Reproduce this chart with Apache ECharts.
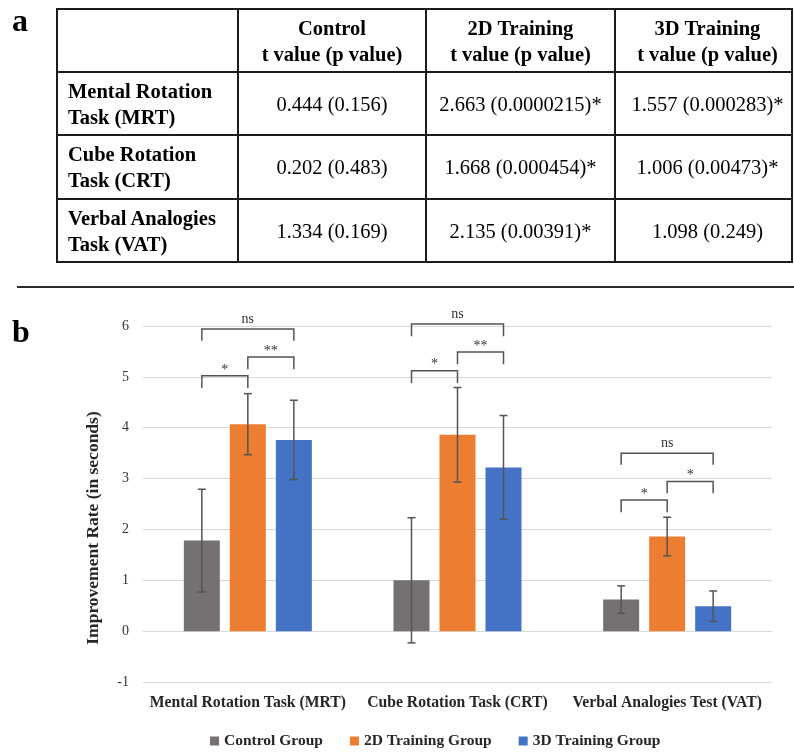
<!DOCTYPE html>
<html>
<head>
<meta charset="utf-8">
<script src="https://cdn.jsdelivr.net/npm/echarts@6/dist/echarts.min.js"></script>
<style>
html,body{margin:0;padding:0;background:#fff;}
#wrap{position:relative;width:794px;height:752px;overflow:hidden;font-family:"Liberation Serif","Times New Roman",serif;background:#fff;}
#chart{position:absolute;left:0;top:0;width:794px;height:752px;}
.panel{position:absolute;font-weight:bold;font-size:32px;line-height:32px;color:#000;}
#tbl{position:absolute;left:56px;top:8px;width:735px;border-collapse:collapse;table-layout:fixed;font-size:20.5px;line-height:26px;color:#000;}
#tbl td,#tbl th{border:2px solid #1c1c1c;padding:0;text-align:center;vertical-align:middle;font-weight:normal;}
#tbl th{font-weight:bold;}
#tbl td.rl{text-align:left;padding-left:10px;font-weight:bold;}
#tbl .last{padding-left:8px;}
#sep{position:absolute;left:17px;top:286px;width:777px;height:2px;background:#2a2a2a;}
</style>
</head>
<body>
<div id="wrap">
  <div id="chart"></div>
  <div class="panel" style="left:12px;top:4px;">a</div>
  <div class="panel" style="left:12px;top:315px;">b</div>
  <table id="tbl"></table>
  <div id="sep"></div>
</div>
<script>
// ---------- Panel a: table data ----------
const tableColHeaders = [['Control', 't value (p value)'], ['2D Training', 't value (p value)'], ['3D Training', 't value (p value)']];
const tableRowLabels = [['Mental Rotation', 'Task (MRT)'], ['Cube Rotation', 'Task (CRT)'], ['Verbal Analogies', 'Task (VAT)']];
const tableControl = ['0.444 (0.156)', '0.202 (0.483)', '1.334 (0.169)'];
const table2D = ['2.663 (0.0000215)*', '1.668 (0.000454)*', '2.135 (0.00391)*'];
const table3D = ['1.557 (0.000283)*', '1.006 (0.00473)*', '1.098 (0.249)'];

// ---------- Panel b: chart data ----------
const categories = ['Mental Rotation Task (MRT)', 'Cube Rotation Task (CRT)', 'Verbal Analogies Test (VAT)'];
const groupNames = ['Control Group', '2D Training Group', '3D Training Group'];
const controlMean = [1.78, 1.00, 0.62];
const controlErr = [1.01, 1.23, 0.27];
const twoDMean = [4.07, 3.86, 1.86];
const twoDErr = [0.60, 0.93, 0.38];
const threeDMean = [3.76, 3.22, 0.49];
const threeDErr = [0.78, 1.02, 0.30];
const yMin = -1, yMax = 6, yStep = 1;
const yAxisTitle = 'Improvement Rate (in seconds)';
// significance brackets: [category index, from group, to group, bracket level, leg end level, label]
const brackets = [
  [0, 0, 2, 5.94, 5.71, 'ns'],
  [0, 1, 2, 5.39, 5.15, '**'],
  [0, 0, 1, 5.02, 4.78, '*'],
  [1, 0, 2, 6.04, 5.80, 'ns'],
  [1, 1, 2, 5.49, 5.25, '**'],
  [1, 0, 1, 5.12, 4.88, '*'],
  [2, 0, 2, 3.50, 3.27, 'ns'],
  [2, 1, 2, 2.94, 2.71, '*'],
  [2, 0, 1, 2.58, 2.34, '*']
];

// ---------- build table ----------
(function () {
  const t = document.getElementById('tbl');
  const widths = [181, 188, 189, 177];
  let html = '<colgroup>' + widths.map(w => '<col style="width:' + w + 'px">').join('') + '</colgroup>';
  html += '<tr style="height:63px"><th></th>' + tableColHeaders.map((h, i) => '<th' + (i === 2 ? ' class="last"' : '') + '>' + h.join('<br>') + '</th>').join('') + '</tr>';
  const rh = [63, 64, 63];
  for (let r = 0; r < tableRowLabels.length; r++) {
    html += '<tr style="height:' + rh[r] + 'px"><td class="rl">' + tableRowLabels[r].join('<br>') + '</td>' +
      '<td>' + tableControl[r] + '</td><td>' + table2D[r] + '</td><td class="last">' + table3D[r] + '</td></tr>';
  }
  t.innerHTML = html;
})();

// ---------- chart ----------
const FONT = '"Liberation Serif", "Times New Roman", serif';
const colors = ['#767171', '#ED7D31', '#4472C4'];
const BAR_W = 36, BAR_GAP = 10;
const means = [controlMean, twoDMean, threeDMean];
const errs = [controlErr, twoDErr, threeDErr];

function groupOffset(g) { return (g - 1) * (BAR_W + BAR_GAP); }

const barSeries = groupNames.map((name, g) => ({
  name: name,
  type: 'bar',
  data: means[g],
  barWidth: BAR_W,
  barGap: (BAR_GAP / BAR_W * 100).toFixed(1) + '%',
  itemStyle: { color: colors[g] },
  z: 2
}));

const errSeries = groupNames.map((name, g) => ({
  name: name + ' error',
  type: 'custom',
  z: 5,
  silent: true,
  data: categories.map((c, i) => [i, means[g][i], errs[g][i]]),
  encode: { x: 0, y: 1 },
  renderItem: function (params, api) {
    const i = api.value(0), m = api.value(1), e = api.value(2);
    const hi = api.coord([i, m + e]);
    const lo = api.coord([i, m - e]);
    const x = hi[0] + groupOffset(g);
    const st = { stroke: '#545454', lineWidth: 1.5 };
    return {
      type: 'group',
      children: [
        { type: 'line', shape: { x1: x, y1: hi[1], x2: x, y2: lo[1] }, style: st },
        { type: 'line', shape: { x1: x - 4, y1: hi[1], x2: x + 4, y2: hi[1] }, style: st },
        { type: 'line', shape: { x1: x - 4, y1: lo[1], x2: x + 4, y2: lo[1] }, style: st }
      ]
    };
  }
}));

const bracketSeries = {
  name: 'significance',
  type: 'custom',
  z: 6,
  silent: true,
  data: brackets.map(b => [b[0], b[3], b[4], b[1], b[2], b[5]]),
  encode: { x: 0, y: 1 },
  renderItem: function (params, api) {
    const b = brackets[params.dataIndex];
    const top = api.coord([b[0], b[3]]);
    const leg = api.coord([b[0], b[4]]);
    const x1 = top[0] + groupOffset(b[1]);
    const x2 = top[0] + groupOffset(b[2]);
    const st = { stroke: '#545454', lineWidth: 1.5, fill: null };
    const off = b[5] === 'ns' ? 10 : 6;
    return {
      type: 'group',
      children: [
        { type: 'polyline', shape: { points: [[x1, leg[1]], [x1, top[1]], [x2, top[1]], [x2, leg[1]]] }, style: st },
        { type: 'text', style: { x: (x1 + x2) / 2, y: top[1] - off, text: b[5], fill: '#333', font: '14px ' + FONT, textAlign: 'center', textVerticalAlign: 'middle' } }
      ]
    };
  }
};

const chart = echarts.init(document.getElementById('chart'), null, { renderer: 'canvas' });
chart.setOption({
  animation: false,
  backgroundColor: 'transparent',
  grid: { left: 143, right: 22, top: 326, bottom: 70, containLabel: false },
  legend: {
    data: groupNames,
    left: 210,
    top: 733,
    padding: 0,
    itemWidth: 9,
    itemHeight: 9,
    itemGap: 27,
    icon: 'rect',
    textStyle: { fontFamily: FONT, fontWeight: 'bold', fontSize: 15.5, color: '#262626' }
  },
  xAxis: {
    type: 'category',
    data: categories,
    axisLine: { show: false, onZero: false },
    axisTick: { show: false },
    axisLabel: { fontFamily: FONT, fontWeight: 'bold', fontSize: 15.7, color: '#262626', margin: 13, interval: 0 },
    splitLine: { show: false }
  },
  yAxis: {
    type: 'value',
    min: yMin,
    max: yMax,
    interval: yStep,
    axisLine: { show: false },
    axisTick: { show: false },
    axisLabel: { fontFamily: FONT, fontSize: 14, color: '#333', margin: 14 },
    splitLine: { lineStyle: { color: '#d9d9d9', width: 1.2 } }
  },
  graphic: [{
    type: 'text',
    x: 93,
    y: 528,
    rotation: Math.PI / 2,
    style: { text: yAxisTitle, font: 'bold 17.5px ' + FONT, fill: '#262626', textAlign: 'center', textVerticalAlign: 'middle' }
  }],
  series: barSeries.concat(errSeries, [bracketSeries])
});
</script>
</body>
</html>
